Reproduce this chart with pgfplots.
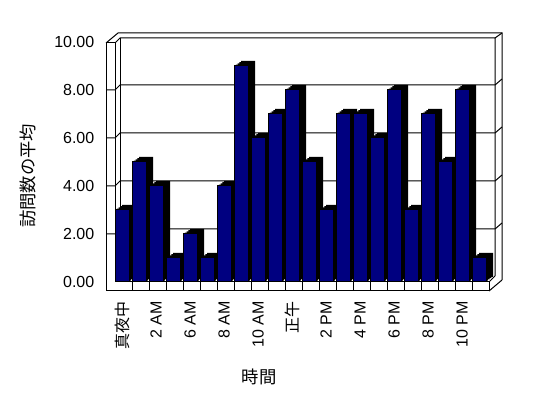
\documentclass[border=0pt]{standalone}
\usepackage{fontspec}
\setmainfont{Liberation Sans}
\newfontfamily\jp{Noto Sans CJK JP}
\usepackage{pgfplots}
\usepackage{pgfplotstable}
\pgfplotsset{compat=1.18}
\definecolor{barblue}{RGB}{0,0,128}
\pgfplotstableread{
x y
0 3
1 5
2 4
3 1
4 2
5 1
6 4
7 9
8 6
9 7
10 8
11 5
12 3
13 7
14 7
15 6
16 8
17 3
18 7
19 5
20 8
21 1
}\visits
\begin{document}
\begin{tikzpicture}
\begin{scope}[x=0.75pt,y=-0.75pt,yshift=298.5pt,line width=0.75pt]
\useasboundingbox (0,0) rectangle (548,398);
% left wall
\draw (106,291) -- (106,43) -- (115,43) -- (115,282);
\draw (106,43) -- (118,33) -- (502,33) -- (502,280);
\draw (115,43) -- (120,38) -- (495,38) -- (495,276);
\draw (120,38) -- (120,277);
\draw (495,38) -- (502,33);
% floor
\draw (106,291) -- (489,291) -- (489,282) -- (115,282);
\foreach \k in {1,...,21} { \draw ({115+17*\k},282) -- ({115+17*\k},291); }
\draw (489,282) -- (495,276);
\draw (489,291) -- (502,280);
% titles
\node[font=\jp\fontsize{13pt}{15pt}\selectfont, rotate=90] at (28,176) {訪問数の平均};
\node[font=\jp\fontsize{13pt}{15pt}\selectfont] at (259,377) {時間};
\end{scope}
\begin{axis}[
  at={(86.25pt,87pt)}, anchor=south west,
  scale only axis, width=280.5pt, height=180pt,
  xmin=-0.41176, xmax=21.58824, ymin=0, ymax=10,
  clip=false,
  axis line style={draw=none}, tick style={draw=none}, major tick length=0pt,
  ytick={0,2,4,6,8,10},
  xtick={0,2,4,6,8,10,12,14,16,18,20},
  xticklabels={{\jp 真夜中},2 AM,6 AM,8 AM,10 AM,{\jp 正午},2 PM,4 PM,6 PM,8 PM,10 PM},
  ticklabel style={font=\fontsize{12pt}{14pt}\selectfont},
  yticklabel style={xshift=-12pt,
    /pgf/number format/fixed, /pgf/number format/fixed zerofill,
    /pgf/number format/precision=2, /pgf/number format/assume math mode=true},
  xticklabel style={yshift=-11pt, rotate=90, anchor=east},
]
\pgfplotsinvokeforeach{2,4,6,8}{
\draw[line width=0.75pt] ([xshift=-6.75pt]axis cs:-0.41176,#1) -- (axis cs:-0.41176,#1)
  -- ([xshift=3.75pt,yshift=3.75pt]axis cs:-0.41176,#1)
  -- ([xshift=4.5pt,yshift=3.75pt]axis cs:21.58824,#1)
  -- ([xshift=9.75pt,yshift=8.25pt]axis cs:21.58824,#1);
}
\addplot[ybar, bar width=0.8235, bar shift=0pt, fill=black, draw=none, xshift=1.3125pt, yshift=0.9375pt] table[x=x,y=y] {\visits};
\addplot[ybar, bar width=0.8235, bar shift=0pt, fill=black, draw=none, xshift=2.625pt, yshift=1.875pt] table[x=x,y=y] {\visits};
\addplot[ybar, bar width=0.8235, bar shift=0pt, fill=black, draw=none, xshift=3.9375pt, yshift=2.8125pt] table[x=x,y=y] {\visits};
\addplot[ybar, bar width=0.8235, bar shift=0pt, fill=black, draw=none, xshift=5.25pt, yshift=3.75pt] table[x=x,y=y] {\visits};
\addplot[ybar, bar width=0.8235, bar shift=0pt, fill=barblue, draw=black, line width=0.75pt] table[x=x,y=y] {\visits};
\end{axis}
\end{tikzpicture}
\end{document}
